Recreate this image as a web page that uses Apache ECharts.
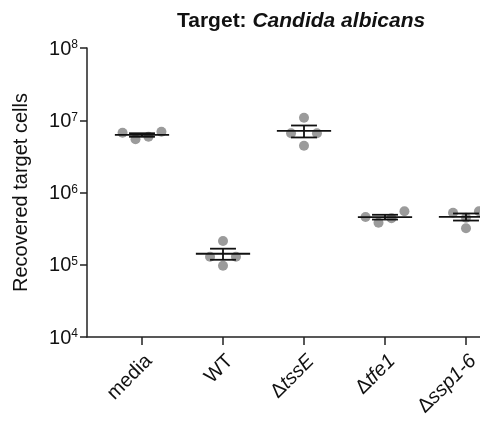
<!DOCTYPE html>
<html>
<head>
<meta charset="utf-8">
<script src="https://cdn.jsdelivr.net/npm/echarts@6/dist/echarts.min.js"></script>
<style>
  html, body { margin: 0; padding: 0; background: #fff; }
  #chart { width: 480px; height: 422px; }
</style>
</head>
<body>
<div id="chart"></div>
<script>
// Recovered target cells (CFU) for each attacker strain, four replicates each
const categories = ['media', 'WT', 'ΔtssE', 'Δtfe1', 'Δssp1-6'];
const media   = [6.73e6, 5.45e6, 5.90e6, 6.95e6];
const wt      = [2.13e5, 1.29e5, 1.29e5, 0.97e5];
const tssE    = [1.084e7, 6.6e6, 6.6e6, 4.44e6];
const tfe1    = [4.58e5, 3.82e5, 4.39e5, 5.49e5];
const ssp16   = [5.25e5, 3.20e5, 4.48e5, 5.50e5];
const groups  = [media, wt, tssE, tfe1, ssp16];
const yExtent = [1e4, 1e8];

const FONT = '"Liberation Sans", Arial, sans-serif';
const GREY = '#9b9b9b';
const INK = '#111';

// Mean and standard error of the mean
function stats(vals) {
  const n = vals.length;
  const mean = vals.reduce((a, b) => a + b, 0) / n;
  const sd = Math.sqrt(vals.reduce((a, b) => a + (b - mean) * (b - mean), 0) / (n - 1));
  return { mean, sem: sd / Math.sqrt(n) };
}

// Simple beeswarm: points close in log value share a row and are spread
// sideways on a fixed lattice; an even row steps round the centre column
// when a neighbouring row already uses it.
const STEP = 0.16;       // lattice step, category units
const ROW_GAP = 0.11;    // decades: points closer than this share a row
const NEIGHBOUR = 0.22;  // decades: rows closer than this interact
function swarm(vals) {
  const idx = vals.map((v, i) => i).sort((a, b) => vals[b] - vals[a]);
  const rows = [];
  idx.forEach(i => {
    const lv = Math.log10(vals[i]);
    const last = rows[rows.length - 1];
    if (last && Math.abs(last.lastLog - lv) < ROW_GAP) {
      last.members.push(i); last.lastLog = lv;
    } else {
      rows.push({ members: [i], lastLog: lv, firstLog: lv });
    }
  });
  const offsets = new Array(vals.length).fill(0);
  rows.forEach((row, r) => {
    const m = row.members.slice().sort((a, b) => a - b);
    const n = m.length;
    const centreTaken = rows.some((o, k) => k !== r && o.members.length % 2 === 1 &&
      Math.min(Math.abs(o.firstLog - row.lastLog), Math.abs(o.lastLog - row.firstLog)) < NEIGHBOUR);
    m.forEach((pi, k) => {
      let off = (k - (n - 1) / 2) * STEP;
      if (n % 2 === 0 && centreTaken) {
        off = (k < n / 2 ? -(n / 2 - k) : (k - n / 2 + 1)) * STEP;
      }
      offsets[pi] = off;
    });
  });
  return offsets;
}

const points = [];
const summary = [];
groups.forEach((vals, g) => {
  const x = g + 1;
  const offs = swarm(vals);
  vals.forEach((v, i) => points.push([x + offs[i], v]));
  const s = stats(vals);
  summary.push([x, s.mean, s.mean - s.sem, s.mean + s.sem]);
});

const chart = echarts.init(document.getElementById('chart'), null, { renderer: 'canvas' });

const MEAN_HALF = 0.335;
const CAP_HALF = 0.16;

chart.setOption({
  animation: false,
  backgroundColor: '#fff',
  textStyle: { fontFamily: FONT, color: INK },
  title: {
    text: '{b|Target: }{bi|Candida albicans}',
    left: 172,
    top: 6,
    textStyle: {
      rich: {
        b: { fontFamily: FONT, fontSize: 21, fontWeight: 'bold', color: INK },
        bi: { fontFamily: FONT, fontSize: 21, fontWeight: 'bold', fontStyle: 'italic', color: INK }
      }
    }
  },
  grid: { left: 87, top: 48, bottom: 85, right: -26.5, containLabel: false, outerBoundsMode: 'none' },
  xAxis: {
    type: 'value',
    min: 0.321,
    max: 5.5,
    splitLine: { show: false },
    axisLine: { show: true, onZero: false, lineStyle: { color: '#222', width: 1.5 } },
    axisTick: { show: true, customValues: [1, 2, 3, 4, 5], length: 8, lineStyle: { color: '#222', width: 1.5 } },
    axisLabel: {
      show: true,
      customValues: [1, 2, 3, 4, 5],
      rotate: 45,
      margin: 14,
      padding: [20, 0, 0, 0],
      fontFamily: FONT,
      fontSize: 20,
      color: INK,
      formatter: v => {
        const name = categories[Math.round(v) - 1];
        if (name.charAt(0) === 'Δ') return '{d|Δ}{i|' + name.slice(1) + '}';
        return name;
      },
      rich: {
        d: { fontFamily: FONT, fontSize: 20, color: INK },
        i: { fontFamily: FONT, fontSize: 20, fontStyle: 'italic', color: INK }
      }
    }
  },
  yAxis: {
    type: 'log',
    logBase: 10,
    min: yExtent[0],
    max: yExtent[1],
    name: 'Recovered target cells',
    nameLocation: 'middle',
    nameGap: 56,
    nameTextStyle: { fontFamily: FONT, fontSize: 20, color: INK },
    splitLine: { show: false },
    axisLine: { show: true, onZero: false, lineStyle: { color: '#222', width: 1.5 } },
    axisTick: { show: true, length: 7, lineStyle: { color: '#222', width: 1.5 } },
    axisLabel: {
      margin: 9,
      formatter: v => '{b|10}{s|' + Math.round(Math.log10(v)) + '}',
      rich: {
        b: { fontFamily: FONT, fontSize: 20, color: INK, lineHeight: 22, verticalAlign: 'bottom' },
        s: { fontFamily: FONT, fontSize: 12, color: INK, lineHeight: 12, verticalAlign: 'top', padding: [2, 0, 0, 0] }
      }
    }
  },
  series: [
    {
      type: 'scatter',
      data: points,
      symbol: 'circle',
      symbolSize: 10,
      itemStyle: { color: GREY, opacity: 1 },
      clip: false,
      z: 2
    },
    {
      type: 'custom',
      data: summary,
      clip: false,
      z: 3,
      encode: { x: 0, y: [1, 2, 3] },
      renderItem: (params, api) => {
        const x = api.value(0), m = api.value(1), lo = api.value(2), hi = api.value(3);
        const pm = api.coord([x, m]);
        const pl = api.coord([x, lo]);
        const ph = api.coord([x, hi]);
        const wm = api.coord([x + MEAN_HALF, m])[0] - pm[0];
        const wc = api.coord([x + CAP_HALF, m])[0] - pm[0];
        const style = { stroke: INK, lineWidth: 1.8 };
        return {
          type: 'group',
          children: [
            { type: 'line', shape: { x1: pm[0] - wm, y1: pm[1], x2: pm[0] + wm, y2: pm[1] }, style },
            { type: 'line', shape: { x1: pm[0], y1: ph[1], x2: pm[0], y2: pl[1] }, style },
            { type: 'line', shape: { x1: pm[0] - wc, y1: ph[1], x2: pm[0] + wc, y2: ph[1] }, style },
            { type: 'line', shape: { x1: pm[0] - wc, y1: pl[1], x2: pm[0] + wc, y2: pl[1] }, style }
          ]
        };
      }
    }
  ]
});
</script>
</body>
</html>
